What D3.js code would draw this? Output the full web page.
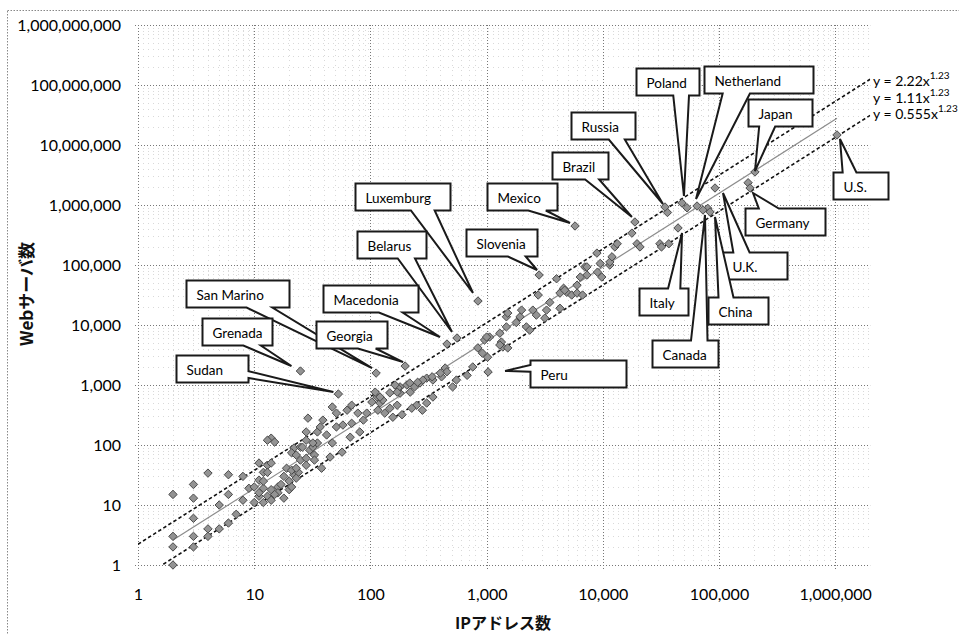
<!DOCTYPE html>
<html>
<head>
<meta charset="utf-8">
<script src="https://cdn.jsdelivr.net/npm/d3@7"></script>
<style>
  body { margin: 0; background: #fff; }
  svg { display: block; }
</style>
</head>
<body>
<svg id="chart" width="959" height="634"></svg>
<script>
// Named countries: number of IP addresses and number of web servers
const countryNames = ["Russia", "Poland", "Netherland", "Japan", "Brazil", "Mexico", "Slovenia",
  "Luxemburg", "Belarus", "Macedonia", "San Marino", "Georgia", "Grenada", "Sudan", "Peru",
  "U.S.", "Germany", "U.K.", "China", "Canada", "Italy"];
const countryIP = [34300, 48000, 64700, 204000, 18900, 5770, 2830,
  843, 556, 456, 112, 199, 25, 53, 1030,
  1036000, 185000, 92400, 83700, 72800, 44400];
const countryWeb = [926000, 1080000, 962000, 3550000, 521000, 447000, 68100,
  25100, 6070, 4820, 1580, 2070, 1710, 708, 1650,
  14700000, 1920000, 1920000, 765000, 826000, 414000];

// All other countries: [IP addresses, web servers]
const otherCountries = [
  [2,15],[2,3],[2,2],[2,1],[3,22],[3,13],[3,6],[3,3],[3,2],[4,34],[4,4],[4,3],[5,10],[5,4],
  [6,32],[6,15],[6,5],[7,7],[8,30],[8,12],[9,19],
  [11,50],[13,46],[14,50],[12,35],[13,35],[11,26],[10,20],[12,19],[14,18],[16,20],[11,14],
  [13,14],[14,12],[10,11],[12,11],[14,130],[15,112],[13,120],[19,41],[22,32],[25,56],[17,22],
  [18,30],[16,16],[20,25],[22,89],[25,92],[20,18],[24,35],[18,13],[15,15],[21,20],[23,28],
  [12,25],[11,16],
  [21,74],[23,68],[28,60],[30,82],[32,92],[29,280],[35,165],[35,108],[33,68],[39,260],[38,41],
  [47,430],[51,200],[58,215],[69,230],[67,135],[47,108],[42,147],[32,108],[28,120],[26,92],
  [81,165],[87,260],[93,340],[78,340],[57,76],[45,63],[33,56],[28,165],[37,200],[51,340],
  [63,380],[69,460],[21,38],[23,41],[28,46],
  [103,520],[114,630],[121,500],[128,560],[116,380],[133,340],[147,410],[170,460],[180,730],
  [180,930],[206,1000],[220,760],[240,930],[267,1080],[305,1300],[345,1210],[410,1370],
  [440,1920],[455,1660],[550,1210],[510,930],[345,630],[305,500],[250,460],[280,380],[227,410],
  [187,320],[156,290],[400,1580],[340,1370],[283,1210],[255,1110],[218,1080],[173,890],
  [163,1000],[170,760],[147,740],[121,630],[110,760],[680,1450],[760,2000],[840,4150],
  [960,5620],[1060,6300],[920,3400],[1020,2900],
  [1380,4300],[1340,5200],[1480,13700],[1940,13700],[2000,17700],[2500,17700],[2680,14600],
  [3170,13000],[3500,23800],[4000,59000],[4600,41000],[4900,35000],[5400,31600],[6000,34000],
  [6700,31600],[6000,46000],[7000,93000],[7300,68000],[8900,158000],[9800,63000],[11500,100000],
  [1300,4640],[1520,4150],[1000,6300],[1300,7300],[1480,9300],[2200,9300],[2350,8200],
  [1800,11000],[1520,15800],[2780,31600],[3280,17700],[4280,19000],[4280,34000],[4700,38000],
  [6400,63000],[7300,93000],[9000,76000],[9500,106000],
  [11500,112000],[12000,137000],[12700,200000],[13300,226000],[19700,226000],[20900,200000],
  [31000,226000],[32000,200000],[37000,226000],[17800,340000],[36000,750000],[53000,900000],
  [80000,880000],[178000,2350000]
];

// Power-law fits y = a * x^b (upper bound, centre fit, lower bound)
const fitCoef = [2.22, 1.11, 0.555];
const fitExp = 1.23;
const fitLabels = ["y = 2.22x", "y = 1.11x", "y = 0.555x"];
const fitExpLabel = "1.23";

const xTicks = [1, 10, 100, 1000, 10000, 100000, 1000000];
const yTicks = [1, 10, 100, 1000, 10000, 100000, 1000000, 10000000, 100000000, 1000000000];
const xTitle = "IPアドレス数";
const yTitle = "Webサーバ数";

// Callout layout (pixels): box offset from the marker, box width, wedge tip offset from the marker
const calloutLayout = {
  "Russia":     { dx: -94,  dy: -95,  w: 64,  tx: -2, ty: -3 },
  "Poland":     { dx: -46,  dy: -135, w: 63,  tx: 2,  ty: -7 },
  "Netherland": { dx: 7,    dy: -140, w: 109, tx: -1, ty: -7 },
  "Japan":      { dx: -7,   dy: -73,  w: 64,  tx: 0,  ty: -1 },
  "Brazil":     { dx: -83,  dy: -70,  w: 56,  tx: -3, ty: -5 },
  "Mexico":     { dx: -88,  dy: -43,  w: 70,  tx: -5, ty: -3 },
  "Slovenia":   { dx: -73,  dy: -46,  w: 71,  tx: -2, ty: -5 },
  "Luxemburg":  { dx: -123, dy: -118, w: 95,  tx: -5, ty: -8 },
  "Belarus":    { dx: -100, dy: -107, w: 69,  tx: -5, ty: -6 },
  "Macedonia":  { dx: -124, dy: -59,  w: 95,  tx: -7, ty: -7 },
  "San Marino": { dx: -190, dy: -93,  w: 103, tx: -4, ty: -5 },
  "Georgia":    { dx: -89,  dy: -45,  w: 71,  tx: -2, ty: -4 },
  "Grenada":    { dx: -98,  dy: -53,  w: 70,  tx: -9, ty: -5 },
  "Sudan":      { dx: -162, dy: -39,  w: 72,  tx: -5, ty: -2 },
  "Peru":       { dx: 42,   dy: -12,  w: 96,  tx: 17, ty: -1 },
  "U.S.":       { dx: -4,   dy: 37,   w: 55,  tx: 3,  ty: 4 },
  "Germany":    { dx: -5,   dy: 20,   w: 80,  tx: 3,  ty: 5 },
  "U.K.":       { dx: 7,    dy: 64,   w: 65,  tx: 8,  ty: 5 },
  "China":      { dx: -2,   dy: 85,   w: 60,  tx: 5,  ty: 5 },
  "Canada":     { dx: -51,  dy: 130,  w: 66,  tx: 2,  ty: 5 },
  "Italy":      { dx: -39,  dy: 60,   w: 49,  tx: 4,  ty: 5 }
};
const boxH = 27;

const svg = d3.select("#chart");
const latin = "Lato, 'Open Sans', 'DejaVu Sans', sans-serif";
const cjk = "'Noto Sans CJK JP', 'Noto Sans', sans-serif";

// Plot area
const plotLeft = 138, plotTop = 25, plotBottom = 565;
const decadeX = 116.2;
const xMax = 2e6;
const plotRight = plotLeft + decadeX * Math.log10(xMax);

const x = d3.scaleLog().domain([1, xMax]).range([plotLeft, plotRight]);
const y = d3.scaleLog().domain([1, 1e9]).range([plotBottom, plotTop]);

// Chart-area frame
svg.append("rect")
  .attr("x", 7.5).attr("y", 10.5).attr("width", 960).attr("height", 640)
  .attr("fill", "none").attr("stroke", "#888").attr("stroke-dasharray", "1.5,1.5");

// Minor grid
const minorX = [], minorY = [];
for (let d = 1; d < xMax; d *= 10) for (let k = 2; k <= 9; k++) if (d * k < xMax) minorX.push(d * k);
for (let d = 1; d < 1e9; d *= 10) for (let k = 2; k <= 9; k++) minorY.push(d * k);

const grid = svg.append("g");
grid.selectAll(".mx").data(minorX).join("line")
  .attr("x1", d => Math.round(x(d)) + 0.5).attr("x2", d => Math.round(x(d)) + 0.5)
  .attr("y1", plotTop).attr("y2", plotBottom)
  .attr("stroke", "#d9d9d9").attr("stroke-width", 1).attr("stroke-dasharray", "1,4");
grid.selectAll(".my").data(minorY).join("line")
  .attr("x1", plotLeft).attr("x2", plotRight)
  .attr("y1", d => Math.round(y(d)) + 0.5).attr("y2", d => Math.round(y(d)) + 0.5)
  .attr("stroke", "#d9d9d9").attr("stroke-width", 1).attr("stroke-dasharray", "1,4");
grid.selectAll(".Mx").data(xTicks).join("line")
  .attr("x1", d => Math.round(x(d)) + 0.5).attr("x2", d => Math.round(x(d)) + 0.5)
  .attr("y1", plotTop).attr("y2", plotBottom + 4)
  .attr("stroke", "#777").attr("stroke-width", 1).attr("stroke-dasharray", "1,2");
grid.selectAll(".My").data(yTicks).join("line")
  .attr("x1", plotLeft - 3).attr("x2", plotRight)
  .attr("y1", d => Math.round(y(d)) + 0.5).attr("y2", d => Math.round(y(d)) + 0.5)
  .attr("stroke", "#777").attr("stroke-width", 1).attr("stroke-dasharray", "1,2");

// Axes
const fmt = d3.format(",");
const xAxis = svg.append("g").attr("transform", `translate(0,${plotBottom})`)
  .call(d3.axisBottom(x).tickValues(xTicks).tickFormat(fmt).tickSize(0).tickPadding(24));
const yAxis = svg.append("g").attr("transform", `translate(${plotLeft},0)`)
  .call(d3.axisLeft(y).tickValues(yTicks).tickFormat(fmt).tickSize(0).tickPadding(17));
[xAxis, yAxis].forEach(g => {
  g.select(".domain").remove();
  g.selectAll("text").attr("font-family", latin).attr("font-size", 16).attr("fill", "#000");
});

// Axis titles
svg.append("text")
  .attr("x", 503).attr("y", 622).attr("text-anchor", "middle").attr("dominant-baseline", "central")
  .attr("font-family", cjk).attr("font-weight", "bold").attr("font-size", 16).attr("fill", "#111")
  .text(xTitle);
svg.append("text")
  .attr("transform", "translate(25,294) rotate(-90)")
  .attr("text-anchor", "middle").attr("dominant-baseline", "central")
  .attr("font-family", cjk).attr("font-weight", "bold").attr("font-size", 17).attr("fill", "#111")
  .text(yTitle);

// Fit lines, clipped to the plot area
svg.append("clipPath").attr("id", "plotClip")
  .append("rect").attr("x", plotLeft).attr("y", plotTop)
  .attr("width", plotRight - plotLeft).attr("height", plotBottom - plotTop);

const allIP = otherCountries.map(d => d[0]).concat(countryIP);
const ipMin = d3.min(allIP), ipMax = d3.max(allIP);
const lineGen = d3.line().x(d => x(d[0])).y(d => y(d[1]));
const fits = svg.append("g").attr("clip-path", "url(#plotClip)");
fitCoef.forEach((a, i) => {
  const centre = i === 1;
  const xs = centre ? [ipMin, ipMax] : [1, xMax];
  fits.append("path")
    .datum(xs.map(v => [v, a * Math.pow(v, fitExp)]))
    .attr("d", lineGen)
    .attr("fill", "none")
    .attr("stroke", centre ? "#8c8c8c" : "#111")
    .attr("stroke-width", centre ? 1.2 : 1.6)
    .attr("stroke-dasharray", centre ? null : "3.5,2.5");
});

// Markers
const diamond = "M0,-4.2L4.2,0L0,4.2L-4.2,0Z";
const pts = otherCountries.map(d => ({ ip: d[0], web: d[1] }))
  .concat(countryNames.map((n, i) => ({ ip: countryIP[i], web: countryWeb[i], name: n })));
svg.append("g").selectAll("path").data(pts).join("path")
  .attr("d", diamond)
  .attr("transform", d => `translate(${x(d.ip)},${y(d.web)})`)
  .attr("fill", "#939393").attr("stroke", "#4a4a4a").attr("stroke-width", 1);

// Wedge-shaped rectangular callout
function wedgePath(l, t, w, h, tx, ty) {
  const r = l + w, b = t + h, hc = l + w / 2, vc = t + h / 2;
  const dxPos = tx - hc, dyPos = ty - vc;
  const dq = dxPos * h / w;
  const dz = Math.abs(dyPos) - Math.abs(dq);
  const x1 = l + w * (dxPos > 0 ? 7 : 2) / 12, x2 = l + w * (dxPos > 0 ? 10 : 5) / 12;
  const y1 = t + h * (dyPos > 0 ? 7 : 2) / 12, y2 = t + h * (dyPos > 0 ? 10 : 5) / 12;
  const xl = dz > 0 ? l : (dxPos > 0 ? l : tx);
  const yl = dz > 0 ? y1 : (dxPos > 0 ? y1 : ty);
  const xt = dz > 0 ? (dyPos > 0 ? x1 : tx) : x1;
  const yt = dz > 0 ? (dyPos > 0 ? t : ty) : t;
  const xr = dz > 0 ? r : (dxPos > 0 ? tx : r);
  const yr = dz > 0 ? y1 : (dxPos > 0 ? ty : y1);
  const xb = dz > 0 ? (dyPos > 0 ? tx : x1) : x1;
  const yb = dz > 0 ? (dyPos > 0 ? ty : b) : b;
  return `M${l},${t}L${x1},${t}L${xt},${yt}L${x2},${t}L${r},${t}L${r},${y1}L${xr},${yr}` +
    `L${r},${y2}L${r},${b}L${x2},${b}L${xb},${yb}L${x1},${b}L${l},${b}L${l},${y2}` +
    `L${xl},${yl}L${l},${y1}Z`;
}

const callouts = svg.append("g");
countryNames.forEach((name, i) => {
  const c = calloutLayout[name];
  const mx = x(countryIP[i]), my = y(countryWeb[i]);
  const l = Math.round(mx + c.dx) + 0.5, t = Math.round(my + c.dy) + 0.5;
  const g = callouts.append("g");
  g.append("path")
    .attr("d", wedgePath(l, t, c.w, boxH, mx + c.tx, my + c.ty))
    .attr("fill", "#fff").attr("stroke", "#1a1a1a").attr("stroke-width", 2)
    .attr("stroke-linejoin", "miter");
  g.append("text")
    .attr("x", l + 10).attr("y", t + boxH / 2 + 1)
    .attr("dominant-baseline", "central")
    .attr("font-family", latin).attr("font-size", 13.5).attr("fill", "#000")
    .text(name);
});

// Fit equations at the right end of the lines
const eq = svg.append("g");
fitLabels.forEach((lab, i) => {
  const t = eq.append("text")
    .attr("x", 873).attr("y", 80 + i * 16.5)
    .attr("dominant-baseline", "central")
    .attr("font-family", latin).attr("font-size", 14).attr("fill", "#000");
  t.append("tspan").text(lab);
  t.append("tspan").attr("dy", -5).attr("font-size", 10).text(fitExpLabel);
});
</script>
</body>
</html>
